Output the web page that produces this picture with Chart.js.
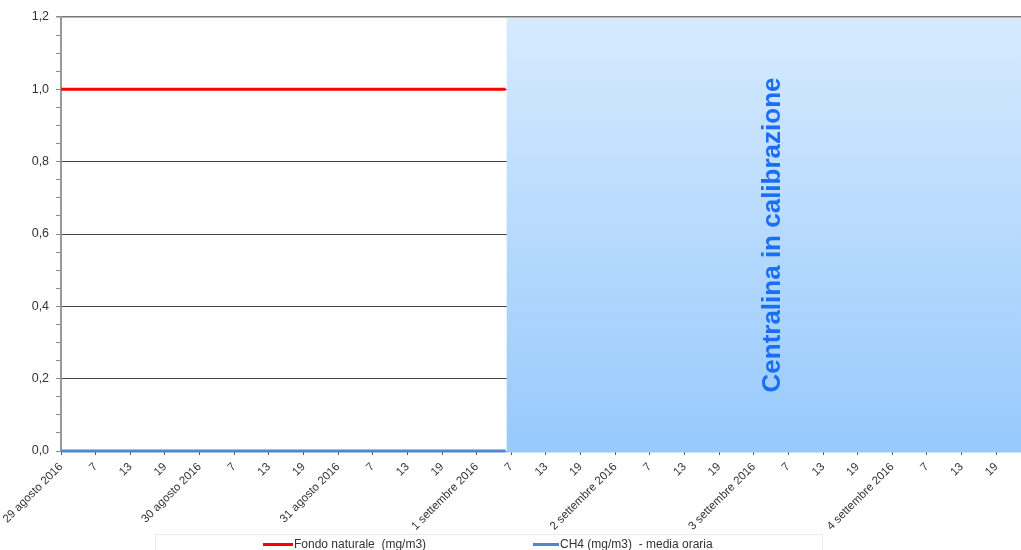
<!DOCTYPE html>
<html><head><meta charset="utf-8">
<script src="https://cdn.jsdelivr.net/npm/chart.js@4/dist/chart.umd.min.js"></script>
<style>html,body{margin:0;padding:0;background:#fff;}#wrap{width:1021px;height:550px;}</style>
</head><body><div id="wrap"><canvas id="c" width="1021" height="550"></canvas></div>
<script>
// hourly index from 29 agosto 2016, ora 1
const hours = [
  0,1,2,3,4,5,6,7,8,9,10,11,12,13,14,15,16,17,18,19,20,21,22,23,
  24,25,26,27,28,29,30,31,32,33,34,35,36,37,38,39,40,41,42,43,44,45,46,47,
  48,49,50,51,52,53,54,55,56,57,58,59,60,61,62,63,64,65,66,67,68,69,70,71,
  72,73,74,75,76,77
];
const fondoNaturale = [
  1.0,1.0,1.0,1.0,1.0,1.0,1.0,1.0,1.0,1.0,1.0,1.0,1.0,1.0,1.0,1.0,1.0,1.0,1.0,1.0,1.0,1.0,1.0,1.0,
  1.0,1.0,1.0,1.0,1.0,1.0,1.0,1.0,1.0,1.0,1.0,1.0,1.0,1.0,1.0,1.0,1.0,1.0,1.0,1.0,1.0,1.0,1.0,1.0,
  1.0,1.0,1.0,1.0,1.0,1.0,1.0,1.0,1.0,1.0,1.0,1.0,1.0,1.0,1.0,1.0,1.0,1.0,1.0,1.0,1.0,1.0,1.0,1.0,
  1.0,1.0,1.0,1.0,1.0,1.0
];
const ch4MediaOraria = [
  0.0,0.0,0.0,0.0,0.0,0.0,0.0,0.0,0.0,0.0,0.0,0.0,0.0,0.0,0.0,0.0,0.0,0.0,0.0,0.0,0.0,0.0,0.0,0.0,
  0.0,0.0,0.0,0.0,0.0,0.0,0.0,0.0,0.0,0.0,0.0,0.0,0.0,0.0,0.0,0.0,0.0,0.0,0.0,0.0,0.0,0.0,0.0,0.0,
  0.0,0.0,0.0,0.0,0.0,0.0,0.0,0.0,0.0,0.0,0.0,0.0,0.0,0.0,0.0,0.0,0.0,0.0,0.0,0.0,0.0,0.0,0.0,0.0,
  0.0,0.0,0.0,0.0,0.0,0.0
];
const tickLabels = [
  '29 agosto 2016','7','13','19',
  '30 agosto 2016','7','13','19',
  '31 agosto 2016','7','13','19',
  '1 settembre 2016','7','13','19',
  '2 settembre 2016','7','13','19',
  '3 settembre 2016','7','13','19',
  '4 settembre 2016','7','13','19'
];
const tickStepHours = 6;
const seriesNames = ['Fondo naturale  (mg/m3)', 'CH4 (mg/m3)  - media oraria'];
const seriesColors = ['#ff0000', '#4f86d0'];
const calibrationStart = 77.2;
const calibrationLabel = 'Centralina in calibrazione';
const yMin = 0, yMax = 1.2, yMajor = 0.2, yMinor = 0.05;
const xMin = 0, xMax = 166.3;

const toPoints = (vals) => vals.map((v, i) => ({x: hours[i], y: v}));

const shadePlugin = {
  id: 'shade',
  afterDatasetsDraw(chart) {
    const {ctx, chartArea, scales} = chart;
    const x0 = scales.x.getPixelForValue(calibrationStart);
    const top = chartArea.top + 1, bottom = chartArea.bottom + 1.5;
    const g = ctx.createLinearGradient(0, top, 0, bottom);
    g.addColorStop(0, '#d6eafe');
    g.addColorStop(1, '#97c9fc');
    ctx.save();
    ctx.fillStyle = g;
    ctx.fillRect(x0, top, chartArea.right - x0 + 2, bottom - top);
    ctx.font = 'bold 26px "Liberation Sans", Arial, sans-serif';
    ctx.fillStyle = '#1a6ef6';
    ctx.textAlign = 'center';
    ctx.textBaseline = 'alphabetic';
    ctx.translate((x0 + chartArea.right) / 2 + 16, (chartArea.top + chartArea.bottom) / 2 + 1);
    ctx.rotate(-Math.PI / 2);
    ctx.fillText(calibrationLabel, 0, 0);
    ctx.restore();
  }
};

const legendPlugin = {
  id: 'customLegend',
  afterDraw(chart) {
    const {ctx} = chart;
    ctx.save();
    ctx.strokeStyle = '#ececec';
    ctx.lineWidth = 1;
    ctx.strokeRect(155.5, 534.5, 667, 30);
    const starts = [263, 533], lens = [30, 26], y = 544.5;
    ctx.font = '12px "Liberation Sans", Arial, sans-serif';
    ctx.textBaseline = 'middle';
    ctx.textAlign = 'left';
    chart.data.datasets.forEach((ds, i) => {
      ctx.strokeStyle = ds.borderColor;
      ctx.lineWidth = 3;
      ctx.beginPath();
      ctx.moveTo(starts[i], y);
      ctx.lineTo(starts[i] + lens[i], y);
      ctx.stroke();
      ctx.fillStyle = '#333';
      ctx.fillText(ds.label, starts[i] + lens[i] + 1, y + 0.5);
    });
    ctx.restore();
  }
};

const isMajor = (v) => Math.abs(v / yMajor - Math.round(v / yMajor)) < 1e-6;

new Chart(document.getElementById('c'), {
  type: 'line',
  data: {
    datasets: [
      {label: seriesNames[0], data: toPoints(fondoNaturale), borderColor: seriesColors[0], backgroundColor: seriesColors[0], borderWidth: 3, pointRadius: 0, clip: false, tension: 0},
      {label: seriesNames[1], data: toPoints(ch4MediaOraria), borderColor: seriesColors[1], backgroundColor: seriesColors[1], borderWidth: 3, pointRadius: 0, clip: false, tension: 0}
    ]
  },
  options: {
    responsive: false,
    animation: false,
    devicePixelRatio: 1,
    layout: {padding: {top: 17, left: 0, right: 0, bottom: 0}},
    plugins: {legend: {display: false}, title: {display: false}, tooltip: {enabled: false}},
    scales: {
      x: {
        type: 'linear', min: xMin, max: xMax,
        afterBuildTicks: (s) => { s.ticks = tickLabels.map((_, i) => ({value: i * tickStepHours})); },
        afterFit: (s) => { s.height = 99; },
        ticks: {
          autoSkip: false, maxRotation: 45, minRotation: 45, padding: 5,
          color: '#333', font: {family: '"Liberation Sans", Arial, sans-serif', size: 11.5},
          callback: (v) => tickLabels[Math.round(v / tickStepHours)]
        },
        grid: {drawOnChartArea: false, drawTicks: true, tickLength: 4, tickColor: '#555'},
        border: {display: true, color: '#888', width: 1}
      },
      y: {
        min: yMin, max: yMax,
        afterFit: (s) => { s.width = 60; },
        ticks: {
          stepSize: yMinor, autoSkip: false, padding: 7,
          color: '#333', font: {family: '"Liberation Sans", Arial, sans-serif', size: 12.5},
          callback: (v) => isMajor(v) ? v.toFixed(1).replace('.', ',') : ''
        },
        grid: {
          drawTicks: true, tickLength: 5, tickColor: '#888',
          color: (c) => (c.tick && isMajor(c.tick.value)) ? (Math.abs(c.tick.value - yMax) < 1e-6 ? '#777' : '#444') : 'rgba(0,0,0,0)',
          lineWidth: (c) => (c.tick && Math.abs(c.tick.value - yMax) < 1e-6) ? 1.5 : 1
        },
        border: {display: true, color: '#999', width: 2}
      }
    }
  },
  plugins: [shadePlugin, legendPlugin]
});
</script>
</body></html>
